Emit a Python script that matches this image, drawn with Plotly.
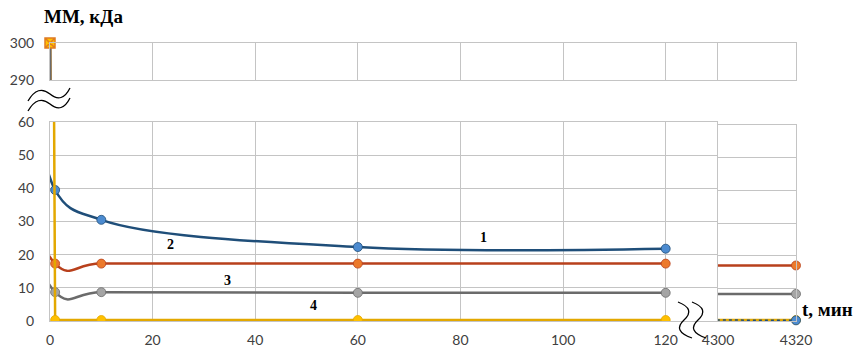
import plotly.graph_objects as go

# time points (min) for the left part of the chart and the last point after the break
t_min = [0, 1, 10, 60, 120]
t_end = 4320

# molecular mass, kDa
mm_1 = [300, 39.5, 30.5, 22.3, 21.8]
mm_2 = [300, 17.3, 17.3, 17.3, 17.3]
mm_3 = [300, 8.7, 8.7, 8.5, 8.5]
mm_4 = [300, 0.3, 0.3, 0.3, 0.3]
mm_end = [0.2, 17.0, 8.3, 0.3]

curve_names = ["1", "2", "3", "4"]
x_ticks = [0, 20, 40, 60, 80, 100, 120]
x_ticks_end = [4300, 4320]
y_ticks_top = [290, 300]

W, H = 862, 359

line_colors   = ["#1F4E79", "#B8401C", "#6B6B6B", "#E3A800"]
marker_colors = ["#4C8BD0", "#EC7A2C", "#A5A5A5", "#FFC000"]
smooth        = [1.0, 1.3, 1.3, 0]
label_pos     = [(84.5, 25.2), (23.4, 23.2), (34.5, 12.1), (51.3, 4.6)]


def px(x):
    return x / W


def py(y):
    return 1 - y / H


def wave(points):
    # points given in page pixels, turned into a paper-space svg path
    (x0, y0), (cx, cy), (x1, y1), (x2, y2) = points
    return (f"M {px(x0)},{py(y0)} Q {px(cx)},{py(cy)} {px(x1)},{py(y1)} "
            f"T {px(x2)},{py(y2)}")


def line_style(i):
    if smooth[i]:
        return dict(color=line_colors[i], width=2.5, shape="spline", smoothing=smooth[i])
    return dict(color=line_colors[i], width=2.5, shape="linear")


series = [mm_1, mm_2, mm_3, mm_4]
fig = go.Figure()

# top panel (290-300), only the first steep drop shows here
for i in [0, 1, 3, 2]:
    fig.add_trace(go.Scatter(
        x=t_min, y=series[i], xaxis="x2", yaxis="y2", mode="lines",
        line=dict(color=line_colors[i], width=2.5),
        showlegend=False, hoverinfo="skip"))
fig.add_trace(go.Scatter(
    x=t_min[:1], y=mm_4[:1], xaxis="x2", yaxis="y2", mode="markers",
    marker=dict(symbol="square-x", size=10, color="#FFC000",
                line=dict(color="#E07B20", width=1.5)),
    cliponaxis=False, showlegend=False, hoverinfo="skip"))

# main panel (0-60, 0-130 min)
for i, ys in enumerate(series):
    fig.add_trace(go.Scatter(
        x=t_min, y=ys, mode="lines+markers", line=line_style(i),
        marker=dict(size=9, color=marker_colors[i],
                    line=dict(color=line_colors[i], width=0.8)),
        showlegend=False, hoverinfo="skip"))

# right panel after the break (4300-4320 min)
for i in [3, 1, 2, 0]:
    fig.add_trace(go.Scatter(
        x=[t_min[-1], t_end], y=[series[i][-1], mm_end[i]],
        xaxis="x3", yaxis="y3", mode="lines+markers",
        line=dict(color=line_colors[i], width=2.5 if i else 1.5,
                  dash="dot" if i == 0 else "solid"),
        marker=dict(size=9, color=marker_colors[i],
                    line=dict(color=line_colors[i], width=0.8)),
        cliponaxis=False, showlegend=False, hoverinfo="skip"))

for i, name in enumerate(curve_names):
    fig.add_annotation(x=label_pos[i][0], y=label_pos[i][1], text=f"<b>{name}</b>",
                       showarrow=False,
                       font=dict(family="Liberation Serif", size=14, color="#000000"))

for text, x, y in [("<b>ММ, кДа</b>", 83, 17), ("<b>t, мин</b>", 827, 309)]:
    fig.add_annotation(x=px(x), y=py(y), xref="paper", yref="paper", showarrow=False,
                       xanchor="center", yanchor="middle", text=text,
                       font=dict(family="Liberation Serif", size=19, color="#000000"))

# axis break marks
for pts in [
    [(28, 101), (38, 84), (50, 94), (70, 88)],
    [(28, 111), (38, 94), (50, 104), (70, 98)],
    [(678, 302), (696, 309), (684, 320), (692, 338)],
    [(692, 302), (710, 309), (698, 320), (706, 338)],
]:
    fig.add_shape(type="path", path=wave(pts), xref="paper", yref="paper",
                  line=dict(color="#000000", width=1.3))

grid = "#C4C4C4"
tick_font = dict(family="Lato", size=14, color="#404040")
common = dict(showgrid=True, gridcolor=grid, gridwidth=1, showline=True,
              linecolor=grid, linewidth=1, mirror=True, zeroline=False,
              tickfont=tick_font, fixedrange=True, automargin=False)

fig.update_layout(
    width=W, height=H,
    margin=dict(l=0, r=0, t=0, b=0, autoexpand=False),
    paper_bgcolor="white", plot_bgcolor="white",
    xaxis=dict(domain=[px(50), px(717)], range=[0, 130], tickvals=x_ticks,
               ticklabelstandoff=6, anchor="y", **common),
    yaxis=dict(domain=[py(321), py(122)], range=[0, 60], dtick=10,
               ticklabelstandoff=12, anchor="x", **common),
    xaxis2=dict(domain=[px(50), px(796)], range=[0, 130 * 746 / 667],
                tickvals=x_ticks + [130], showticklabels=False, anchor="y2", **common),
    yaxis2=dict(domain=[py(80), py(43)], range=[290, 300], tickvals=y_ticks_top,
                ticklabelstandoff=12, anchor="x2", **common),
    xaxis3=dict(domain=[px(718), px(796)], range=[4300, 4320], tickvals=x_ticks_end,
                ticklabelstandoff=6, anchor="y3", **{**common, "showgrid": False}),
    yaxis3=dict(domain=[py(321), py(125)], range=[0, 60], dtick=10,
                showticklabels=False, anchor="x3", **common),
)

# the page body has a default 8px margin; drop it so the figure sits at 0,0
fig.write_html("out.html", config={"displayModeBar": False},
               post_script="document.body.style.margin='0';")
